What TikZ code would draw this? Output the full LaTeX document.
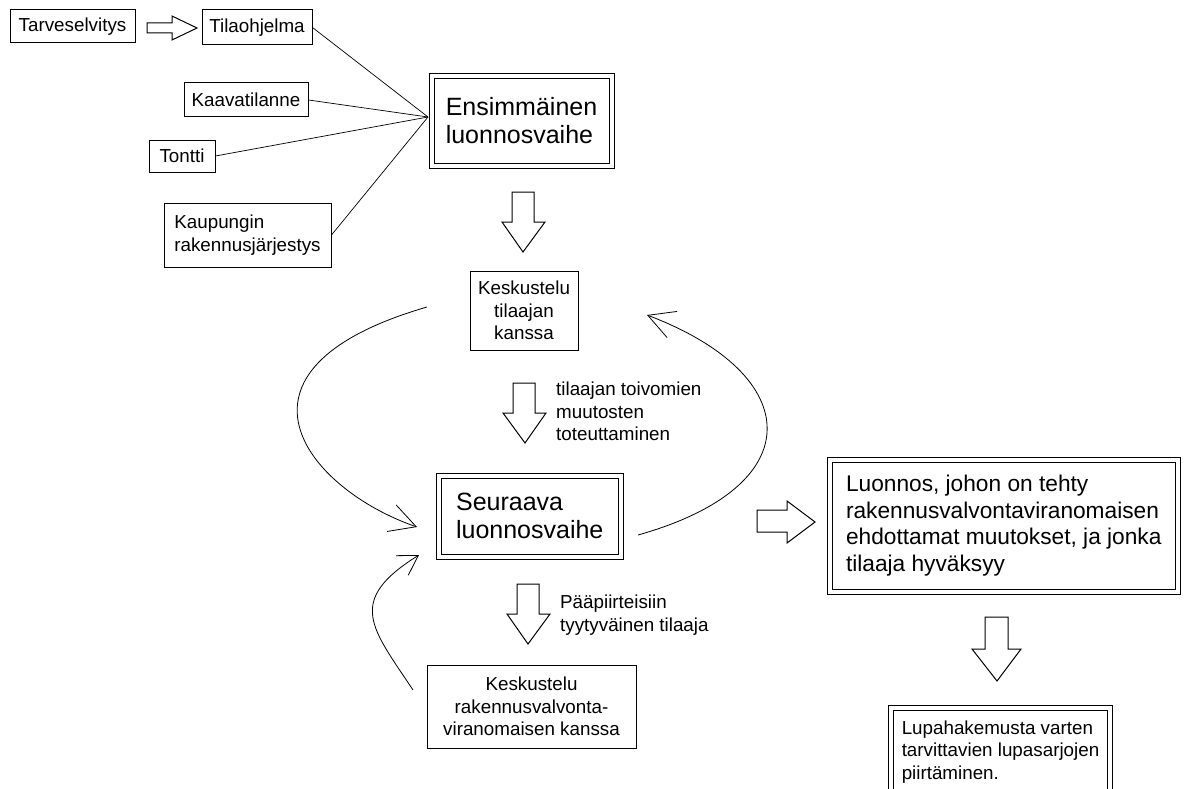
\documentclass[tikz,border=0pt]{standalone}
\usepackage{fontspec}
\setmainfont{Liberation Sans}
\usetikzlibrary{arrows.meta}
\newcommand\fsm{\fontsize{18.8pt}{22.5pt}\selectfont}
\newcommand\fbg{\fontsize{25pt}{28pt}\selectfont}
\newcommand\fmd{\fontsize{22.7pt}{26.7pt}\selectfont}
\begin{document}
\begin{tikzpicture}[x=1pt,y=-1pt,
  box/.style={draw, line width=1pt, inner sep=0pt, font=\fsm, align=center},
  lbox/.style={box, align=left},
  dbox/.style={draw, double, double distance=4pt, line width=1pt, inner sep=0pt, align=left},
  barrow/.style={draw, fill=white, line width=1pt, line join=miter},
  spoke/.style={line width=0.7pt},
  cyc/.style={line width=0.8pt, -{Straight Barb[length=26pt,width=28pt]}},
  scyc/.style={line width=0.8pt, -{Straight Barb[length=19pt,width=23pt]}},
  lbl/.style={font=\fsm, align=left, inner sep=0pt, anchor=north west}]
\useasboundingbox (0,0) rectangle (1185,789);
\fill[white] (0,0) rectangle (1185,789);
\clip (0,0) rectangle (1185,789);

% input boxes
\node[box, minimum width=125pt, minimum height=33pt] (tarve) at (72.5,26.5) {Tarveselvitys};
\node[box, minimum width=110pt, minimum height=35pt] (tila) at (257,27.5) {Tilaohjelma};
\node[box, minimum width=124pt, minimum height=34pt] (kaava) at (246,100) {Kaavatilanne};
\node[box, minimum width=66pt, minimum height=32pt] (tontti) at (182,156) {Tontti};
\node[lbox, minimum width=167pt, minimum height=64pt] (kaup) at (247.5,235) {Kaupungin\\rakennusjärjestys};

% main phases
\node[dbox, font=\fbg, minimum width=180pt, minimum height=90pt] (ens) at (521.5,121) {Ensimmäinen\\luonnosvaihe};
\node[box, minimum width=108pt, minimum height=79pt] (kesk1) at (524,310.5) {Keskustelu\\tilaajan\\kanssa};
\node[dbox, font=\fbg, minimum width=181.5pt, minimum height=81.5pt] (seur) at (529.75,516.25) {Seuraava\\luonnosvaihe};
\node[box, minimum width=209pt, minimum height=83pt] (kesk2) at (531.5,706.5) {Keskustelu\\rakennusvalvonta-\\viranomaisen kanssa};
\node[dbox, font=\fmd, minimum width=348.5pt, minimum height=131.5pt] (luon) at (1003.75,525.75) {Luonnos, johon on tehty\\rakennusvalvontaviranomaisen\\ehdottamat muutokset, ja jonka\\tilaaja hyväksyy};
\node[dbox, font=\fsm, minimum width=219pt, minimum height=88pt, anchor=north west] (lupa) at (890.5,707.5) {Lupahakemusta varten\\tarvittavien lupasarjojen\\piirtäminen.};

% labels
\node[lbl] (lab1) at (556,382) {tilaajan toivomien\\muutosten\\toteuttaminen};
\node[lbl] (lab2) at (560,595) {Pääpiirteisiin\\tyytyväinen tilaaja};

% spokes
\coordinate (hub) at (428,117);
\draw[spoke] (tila.east) -- (hub);
\draw[spoke] (kaava.east) -- (hub);
\draw[spoke] (tontti.east) -- (hub);
\draw[spoke] (kaup.east) -- (hub);

% block arrows
\draw[barrow] (147,23) -- (172,23) -- (172,16) -- (197,28) -- (172,40) -- (172,33) -- (147,33) -- cycle;
\draw[barrow] (512,192) -- (534,192) -- (534,222) -- (545,222) -- (523,252) -- (502,222) -- (512,222) -- cycle;
\draw[barrow] (513,383) -- (535,383) -- (535,413) -- (546,413) -- (525,443) -- (503,413) -- (513,413) -- cycle;
\draw[barrow] (517,584) -- (539,584) -- (539,614) -- (550,614) -- (528,644) -- (507,614) -- (517,614) -- cycle;
\draw[barrow] (757,510) -- (787,510) -- (787,501) -- (815,522) -- (787,543) -- (787,532) -- (757,532) -- cycle;
\draw[barrow] (985,617) -- (1008,617) -- (1008,649) -- (1021,649) -- (997,681) -- (972,649) -- (985,649) -- cycle;

% cycle curves
\coordinate (la) at (427,307);
\coordinate (lb) at (417,527);
\draw[cyc] (la) .. controls (210,370) and (307,489) .. (lb);
\coordinate (ra) at (638,535);
\coordinate (rb) at (647,315);
\draw[cyc] (ra) .. controls (812,486) and (805,375) .. (rb);
\coordinate (ba) at (413,690);
\coordinate (bb) at (419,555);
\draw[scyc] (ba) .. controls (372,628) and (345,601) .. (bb);
\end{tikzpicture}
\end{document}
